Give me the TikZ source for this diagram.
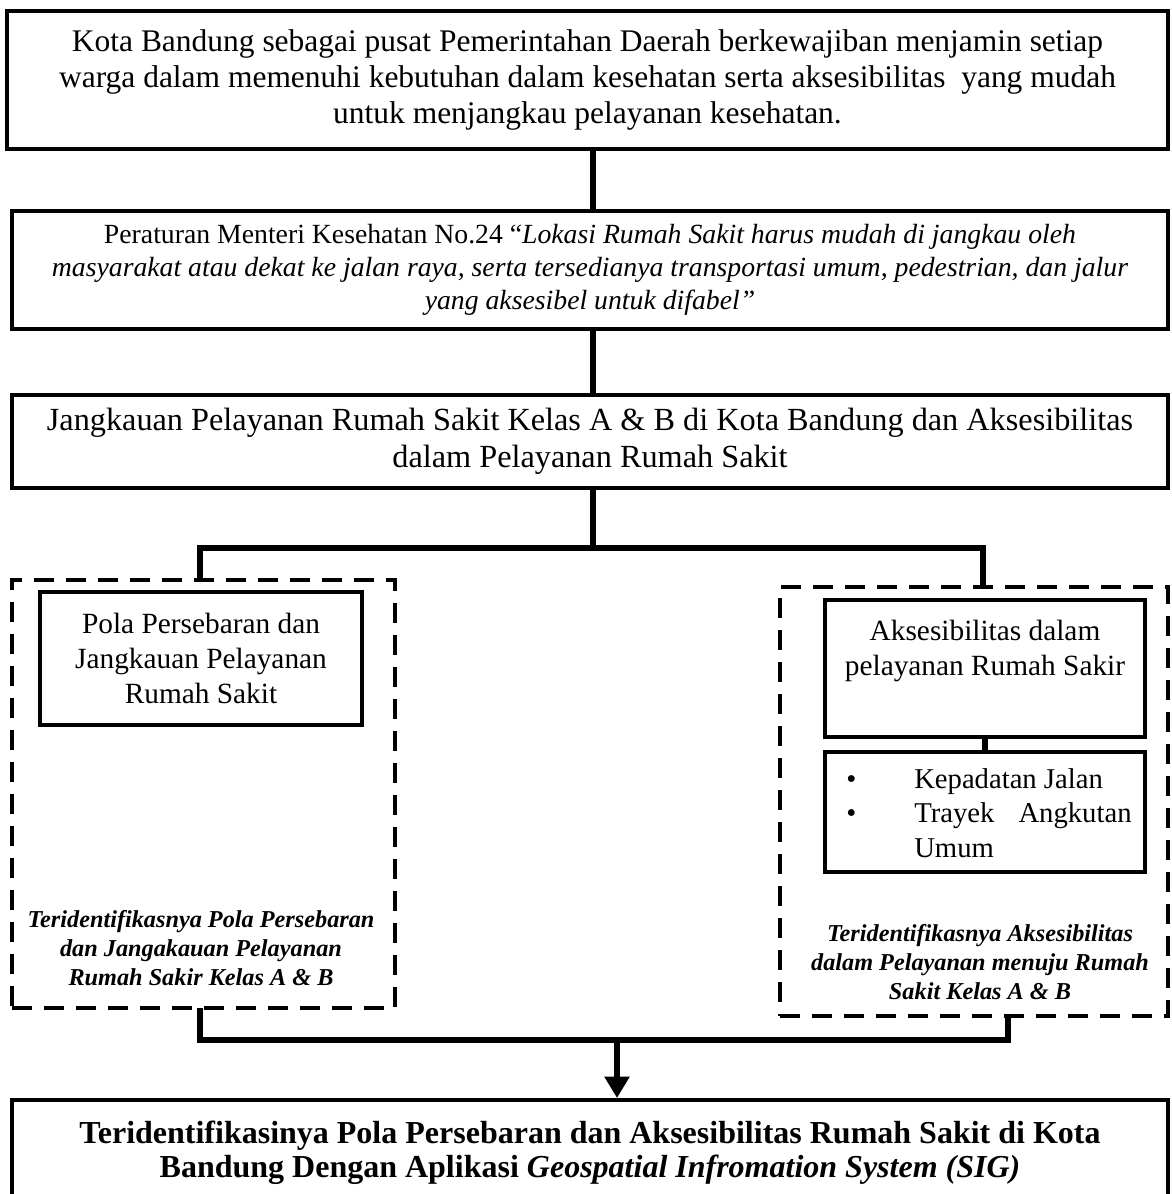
\documentclass[tikz,border=0pt]{standalone}
\usepackage{fontspec}
\setmainfont{Liberation Serif}
\usetikzlibrary{arrows.meta}
\begin{document}
\begin{tikzpicture}[x=0.75pt,y=-0.75pt,
  box/.style={draw=black,line width=3pt,inner sep=0pt,align=center},
  dbox/.style={draw=black,line width=3pt,dash pattern=on 15pt off 9pt,inner sep=0pt},
  conn/.style={draw=black,line width=5pt},
  plain/.style={inner sep=0pt,align=center}]
\useasboundingbox (0,0) rectangle (1171,1194);
% main boxes
\node[box,minimum width=870.75pt,minimum height=103.5pt,font=\fontsize{23.6}{27}\selectfont] (b1) at (587.5,80)
 {Kota Bandung sebagai pusat Pemerintahan Daerah berkewajiban menjamin setiap\\
  warga dalam memenuhi kebutuhan dalam kesehatan serta aksesibilitas \ yang mudah\\
  untuk menjangkau pelayanan kesehatan.};
\node[box,minimum width=867pt,minimum height=88.5pt,font=\fontsize{20.8}{25}\selectfont] (b2) at (590,270)
 {Peraturan Menteri Kesehatan No.24 “\textit{Lokasi Rumah Sakit harus mudah di jangkau oleh}\\
  \textit{masyarakat atau dekat ke jalan raya, serta tersedianya transportasi umum, pedestrian, dan jalur}\\
  \textit{yang aksesibel untuk difabel”}};
\node[box,minimum width=867pt,minimum height=69.75pt,font=\fontsize{24.2}{28}\selectfont] (b3) at (590,441.5)
 {Jangkauan Pelayanan Rumah Sakit Kelas A \& B di Kota Bandung dan Aksesibilitas\\
  dalam Pelayanan Rumah Sakit};
% left dashed group
\node[dbox,minimum width=287.25pt,minimum height=321pt] (ld) at (203.5,794) {};
\node[box,minimum width=241.5pt,minimum height=99.75pt,font=\fontsize{22}{26}\selectfont] (li) at (201,658.5)
 {Pola Persebaran dan\\ Jangkauan Pelayanan\\ Rumah Sakit};
\node[plain,font=\fontsize{18.2}{22}\selectfont\bfseries\itshape] (lr) at (201,948)
 {Teridentifikasnya Pola Persebaran\\ dan Jangakauan Pelayanan\\ Rumah Sakir Kelas A \& B};
% right dashed group
\node[dbox,minimum width=291pt,minimum height=321.75pt] (rd) at (974,801.5) {};
\node[box,minimum width=240pt,minimum height=102.75pt] (ri1) at (985,668.5) {};
\node[plain,font=\fontsize{22}{26}\selectfont] (ri1t) at (985,651) {Aksesibilitas dalam\\ pelayanan Rumah Sakir};
\node[box,minimum width=240pt,minimum height=90pt] (ri2) at (985,812) {};
\node[plain,anchor=west,align=left,font=\fontsize{21.5}{26}\selectfont] (ri2t) at (846,813)
 {\makebox[51pt][l]{•}Kepadatan Jalan\\
  \makebox[51pt][l]{•}\makebox[163pt][s]{Trayek\hfill Angkutan}\\
  \makebox[51pt][l]{}Umum};
\node[plain,font=\fontsize{18.2}{22}\selectfont\bfseries\itshape] (rr) at (980,962)
 {Teridentifikasnya Aksesibilitas\\ dalam Pelayanan menuju Rumah\\ Sakit Kelas A \& B};
% bottom box (its lower edge lies below the picture)
\node[box,minimum width=867pt,minimum height=78.75pt,font=\fontsize{24}{25.5}\selectfont\bfseries] (b4) at (590,1152.5)
 {Teridentifikasinya Pola Persebaran dan Aksesibilitas Rumah Sakit di Kota\\
  Bandung Dengan Aplikasi \textit{Geospatial Infromation System (SIG)}};
% connector coordinates
\coordinate (split) at (593,548);
\coordinate (ltop) at (200,580);
\coordinate (rtop) at (983,587);
\coordinate (lbot) at (200,1008);
\coordinate (rbot) at (1008,1016);
\coordinate (join) at (617,1040);
% connectors
\draw[conn] (b1.south -| split) -- (b2.north -| split);
\draw[conn] (b2.south -| split) -- (b3.north -| split);
\draw[conn] (b3.south -| split) -- (split);
\draw[conn] (ltop) |- (split) -| (rtop);
\draw[conn] (ri1.south) -- (ri2.north);
\draw[conn] (lbot) |- (join) -| (rbot);
\draw[conn,-{Triangle[width=18pt,length=16pt]}] (join) -- (b4.north -| join);
\end{tikzpicture}
\end{document}
